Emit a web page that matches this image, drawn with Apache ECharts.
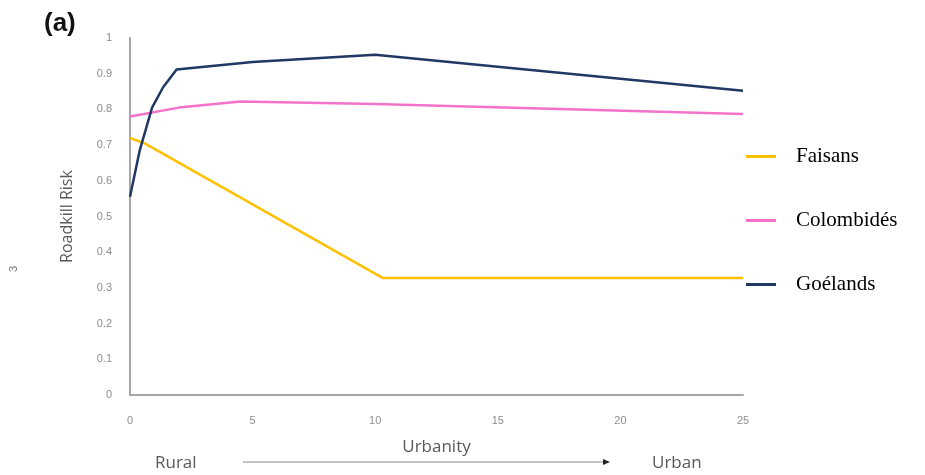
<!DOCTYPE html>
<html style="height: 100%">
<head>
<meta charset="utf-8">
<script type="text/javascript" src="https://cdn.jsdelivr.net/npm/echarts@6/dist/echarts.min.js"></script>
</head>
<body style="height: 100%; margin: 0; background: #fff">
<div id="container" style="width: 925px; height: 475px"></div>
<script type="text/javascript">
// values: [urbanity, roadkill risk]
var faisans = [[0, 0.72], [0.6, 0.705], [10.3, 0.328], [25, 0.328]];
var colombides = [[0, 0.78], [2, 0.805], [4.5, 0.822], [10, 0.815], [25, 0.787]];
var goelands = [[0, 0.555], [0.4, 0.686], [0.9, 0.805], [1.35, 0.862], [1.9, 0.912], [5, 0.933], [10, 0.953], [25, 0.852]];
var seriesNames = ['Faisans', 'Colombidés', 'Goélands'];
var seriesColors = ['#ffc000', '#f472c9', '#1f3864'];

var dom = document.getElementById("container");
var myChart = echarts.init(dom);

function lineSeries(name, data, color) {
    return {
        name: name,
        type: 'line',
        data: data,
        symbol: 'none',
        lineStyle: {width: 2.5, color: color},
        itemStyle: {color: color}
    };
}

var option = {
    backgroundColor: '#fff',
    animation: false,
    grid: {left: 130, right: 182, top: 38, bottom: 80},
    legend: {
        data: seriesNames,
        orient: 'vertical',
        left: 741,
        top: 141,
        icon: 'rect',
        itemWidth: 30,
        itemHeight: 3,
        itemGap: 43,
        textStyle: {fontFamily: 'Liberation Serif', fontSize: 21, color: '#000', padding: [0, 0, 0, 15]}
    },
    xAxis: {
        type: 'value',
        min: 0, max: 25, interval: 5,
        name: 'Urbanity',
        nameLocation: 'middle',
        nameGap: 44,
        nameTextStyle: {fontFamily: 'Open Sans', fontSize: 17, color: '#595959'},
        splitLine: {show: false},
        axisTick: {show: false},
        axisLine: {lineStyle: {color: '#a6a6a6', width: 2}},
        axisLabel: {fontFamily: 'Liberation Sans', fontSize: 11, color: '#8c8c8c', margin: 20}
    },
    yAxis: {
        type: 'value',
        min: 0, max: 1, interval: 0.1,
        name: 'Roadkill Risk',
        nameLocation: 'middle',
        nameGap: 55,
        nameTextStyle: {fontFamily: 'Open Sans', fontSize: 16, color: '#595959'},
        splitLine: {show: false},
        axisTick: {show: false},
        axisLine: {show: true, lineStyle: {color: '#a6a6a6', width: 2}},
        axisLabel: {fontFamily: 'Liberation Sans', fontSize: 11, color: '#8c8c8c', margin: 18,
            formatter: function (v) { return Math.round(v * 10) / 10 + ''; }}
    },
    graphic: [
        {type: 'text', left: 44, top: 11, style: {text: '(a)', font: 'bold 26px "Liberation Sans"', fill: '#111'}},
        {type: 'text', x: 8, y: 272, rotation: Math.PI / 2, style: {text: '3', font: '11px "Liberation Sans"', fill: '#777'}},
        {type: 'text', left: 155, top: 455, style: {text: 'Rural', font: '17px "Open Sans"', fill: '#595959'}},
        {type: 'text', left: 652, top: 455, style: {text: 'Urban', font: '17px "Open Sans"', fill: '#595959'}},
        {type: 'line', shape: {x1: 243, y1: 462, x2: 604, y2: 462}, style: {stroke: '#b0b0b0', lineWidth: 1.5}},
        {type: 'polygon', shape: {points: [[603, 459], [610, 462], [603, 465]]}, style: {fill: '#222'}}
    ],
    series: [
        lineSeries(seriesNames[0], faisans, seriesColors[0]),
        lineSeries(seriesNames[1], colombides, seriesColors[1]),
        lineSeries(seriesNames[2], goelands, seriesColors[2])
    ]
};
myChart.setOption(option, true);
</script>
</body>
</html>
